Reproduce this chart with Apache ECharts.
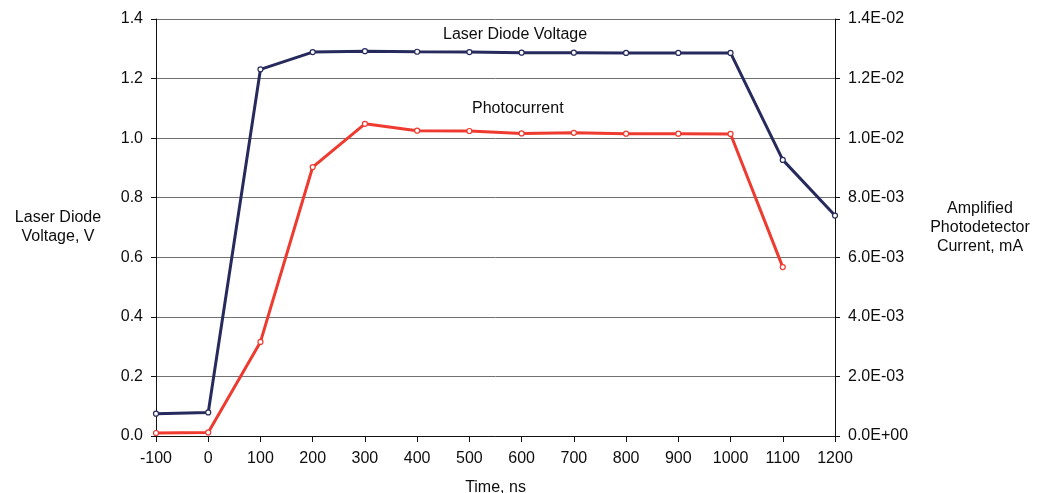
<!DOCTYPE html>
<html><head><meta charset="utf-8">
<script src="https://cdn.jsdelivr.net/npm/echarts@6/dist/echarts.min.js"></script>
<style>html,body{margin:0;padding:0;background:#fff}#c{width:1038px;height:493px}</style>
</head><body><div id="c"></div>
<script>
const times = [-100, 0, 100, 200, 300, 400, 500, 600, 700, 800, 900, 1000, 1100, 1200];
const voltage = [0.075, 0.079, 1.231, 1.289, 1.292, 1.290, 1.289, 1.287, 1.287, 1.286, 1.286, 1.286, 0.927, 0.740];
const photoTimes = [-100, 0, 100, 200, 300, 400, 500, 600, 700, 800, 900, 1000, 1100];
const photocurrent = [0.00010, 0.00012, 0.00316, 0.00903, 0.01048, 0.01025, 0.01024, 0.01016, 0.01018, 0.01015, 0.01015, 0.01014, 0.00567];
const leftTicks = [0, 1.4, 0.2];
const rightTicks = [0, 0.014, 0.002];

const FONT = '"Liberation Sans", Arial, sans-serif';
const TXT = '#0d0d0d';
function expFmt(v){
  if (Math.abs(v) < 1e-12) return '0.0E+00';
  let s = v.toExponential(1);
  let [m, e] = s.split('e');
  let sign = e[0] === '-' ? '-' : '+';
  let d = e.replace(/[+-]/,'');
  if (d.length < 2) d = '0' + d;
  return m + 'E' + sign + d;
}
const chart = echarts.init(document.getElementById('c'));
chart.setOption({
  animation: false,
  textStyle: {fontFamily: FONT},
  grid: {left: 156, right: 203, top: 19, bottom: 57, containLabel: false, outerBoundsMode: 'none'},
  xAxis: {
    type: 'value', min: -100, max: 1200, interval: 100,
    name: 'Time, ns', nameLocation: 'middle', nameGap: 44,
    nameTextStyle: {fontSize: 16, color: TXT, fontFamily: FONT},
    axisLine: {onZero: false, lineStyle: {color: '#111', width: 1}},
    axisTick: {show: true, length: 6, lineStyle: {color: '#111'}},
    axisLabel: {fontSize: 16, color: TXT, margin: 15, fontFamily: FONT, formatter: v => String(v)},
    splitLine: {show: false}
  },
  yAxis: [
    {
      type: 'value', min: leftTicks[0], max: leftTicks[1], interval: leftTicks[2], position: 'left',
      name: 'Laser Diode\nVoltage, V', nameLocation: 'middle', nameGap: 98, nameRotate: 0,
      nameTextStyle: {fontSize: 16, color: TXT, fontFamily: FONT, lineHeight: 19, align: 'center'},
      axisLine: {show: true, onZero: false, lineStyle: {color: '#111'}},
      axisTick: {show: true, length: 5, lineStyle: {color: '#111'}},
      axisLabel: {fontSize: 16, color: TXT, margin: 13, formatter: v => v.toFixed(1), fontFamily: FONT},
      splitLine: {show: true, lineStyle: {color: '#707070', width: 1}}
    },
    {
      type: 'value', min: rightTicks[0], max: rightTicks[1], interval: rightTicks[2], position: 'right',
      name: 'Amplified\nPhotodetector\nCurrent, mA', nameLocation: 'middle', nameGap: 145, nameRotate: 0,
      nameTextStyle: {fontSize: 16, color: TXT, fontFamily: FONT, lineHeight: 19, align: 'center'},
      axisLine: {show: true, onZero: false, lineStyle: {color: '#111'}},
      axisTick: {show: true, length: 5, lineStyle: {color: '#111'}},
      axisLabel: {fontSize: 16, color: TXT, margin: 13, formatter: expFmt, fontFamily: FONT},
      splitLine: {show: false}
    }
  ],
  series: [
    {
      name: 'Laser Diode Voltage', type: 'line', yAxisIndex: 0,
      data: times.map((t, i) => [t, voltage[i]]),
      symbol: 'circle', symbolSize: 5, showAllSymbol: true,
      lineStyle: {color: '#262a5c', width: 3},
      itemStyle: {color: '#ffffff', borderColor: '#262a5c', borderWidth: 1.2},
      z: 3
    },
    {
      name: 'Photocurrent', type: 'line', yAxisIndex: 1,
      data: photoTimes.map((t, i) => [t, photocurrent[i]]),
      symbol: 'circle', symbolSize: 5, showAllSymbol: true,
      lineStyle: {color: '#ee3a2f', width: 3},
      itemStyle: {color: '#ffffff', borderColor: '#ee3a2f', borderWidth: 1.2},
      z: 2
    }
  ],
  graphic: [
    {type: 'text', left: 443, top: 27, style: {text: 'Laser Diode Voltage', font: '16px ' + FONT, fill: TXT}},
    {type: 'text', left: 472, top: 101, style: {text: 'Photocurrent', font: '16px ' + FONT, fill: TXT}}
  ]
});
</script>
</body></html>
